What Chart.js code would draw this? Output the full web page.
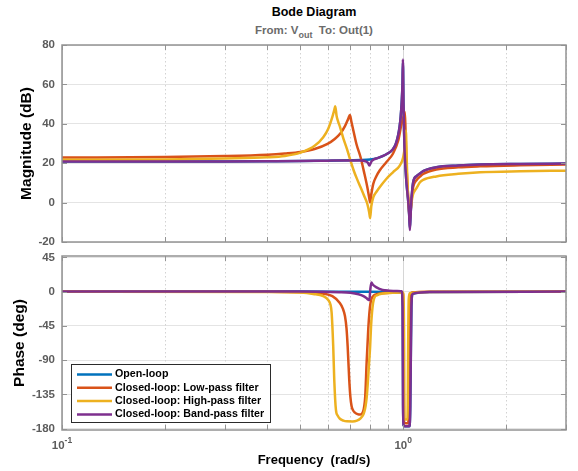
<!DOCTYPE html>
<html>
<head>
<meta charset="utf-8">
<script src="https://cdn.jsdelivr.net/npm/chart.js@4.4.1/dist/chart.umd.min.js"></script>
<style>
  html, body { margin: 0; padding: 0; background: #fff; }
  #wrap { position: relative; width: 578px; height: 471px; font-family: 'Liberation Sans', Arial, Helvetica, sans-serif; }
  #wrap canvas { position: absolute; left: 0; top: 0; }
  .head { position: absolute; left: 62px; width: 504px; text-align: center; font-weight: bold; line-height: 15px; white-space: nowrap; }
  .head sub { font-size: 9px; vertical-align: -4px; line-height: 0; }
</style>
</head>
<body>
<div id="wrap">
  <div class="head" style="top:5px;font-size:12.5px;color:#000">Bode Diagram</div>
  <div class="head" style="top:23px;font-size:11.5px;color:#6b6b6b">From: V<sub>out</sub>&nbsp; To: Out(1)</div>
  <canvas id="mag" width="578" height="471"></canvas>
  <canvas id="phase" width="578" height="471"></canvas>
</div>
<script>
// series
const seriesLabels = ['Open-loop', 'Closed-loop: Low-pass filter', 'Closed-loop: High-pass filter', 'Closed-loop: Band-pass filter'];
const seriesColors = ['#0072BD', '#D95319', '#EDB120', '#7E2F8E'];

// axes
const magTicks = [-20, 0, 20, 40, 60, 80];
const phaseTicks = [-180, -135, -90, -45, 0, 45];
const freqDecades = [0.1, 1];
const freqDecadeLabels = [['10', '-1'], ['10', '0']];
const freqMinor = [0.2, 0.3, 0.4, 0.5, 0.6, 0.7, 0.8, 0.9, 2, 3];

// magnitude (dB)
const wOpenMag = [0.1, 0.2, 0.3, 0.4, 0.5, 0.6, 0.7, 0.75, 0.8, 0.84, 0.87, 0.9, 0.93, 0.95, 0.966, 0.976, 0.983, 0.99, 0.995, 0.998, 1.002, 1.006, 1.0095, 1.016, 1.023, 1.034, 1.041, 1.046, 1.052, 1.06, 1.07, 1.095, 1.12, 1.144, 1.25, 1.45, 1.68, 2.2, 3];
const openMag = [20.8, 20.8, 20.9, 21.0, 21.1, 21.3, 21.5, 21.6, 21.9, 22.6, 23.6, 24.9, 26.8, 29.5, 34, 38.5, 43.4, 51, 60, 71, 50, 36, 26, 17, 9.5, 1, -6, -13, -5, 4, 10.5, 13.5, 14.8, 16.0, 17.9, 18.8, 19.3, 19.6, 19.8];

const wLowMag = [0.1, 0.2, 0.3, 0.4, 0.45, 0.5, 0.55, 0.6, 0.63, 0.655, 0.675, 0.69, 0.698, 0.705, 0.716, 0.73, 0.75, 0.77, 0.785, 0.795, 0.8, 0.806, 0.817, 0.835, 0.853, 0.892, 0.933, 0.967, 0.989, 1.002, 1.0115, 1.016, 1.022, 1.03, 1.038, 1.046, 1.054, 1.062, 1.07, 1.095, 1.12, 1.144, 1.25, 1.45, 1.68, 2.2, 3];
const lowMag = [22.9, 23.1, 23.6, 24.3, 24.9, 25.7, 27.2, 29.8, 32.3, 35.2, 38.8, 42.5, 44.5, 41, 35.8, 29.5, 23, 14.5, 7.8, 2.5, 0.1, 4, 9.5, 13.5, 16.3, 20.5, 24.8, 31.5, 40, 43.5, 46, 36, 20, 8, -2, -9, -2, 4, 8, 11.5, 13.2, 14.5, 16.8, 17.9, 18.4, 18.9, 19.3];

const wHighMag = [0.1, 0.2, 0.3, 0.4, 0.45, 0.5, 0.55, 0.583, 0.603, 0.62, 0.628, 0.632, 0.638, 0.645, 0.653, 0.668, 0.684, 0.7, 0.716, 0.733, 0.75, 0.768, 0.785, 0.795, 0.8, 0.806, 0.817, 0.835, 0.853, 0.892, 0.933, 0.977, 1.0, 1.01, 1.018, 1.024, 1.03, 1.038, 1.046, 1.054, 1.062, 1.07, 1.095, 1.12, 1.144, 1.25, 1.45, 1.68, 2.2, 3];
const highMag = [21.7, 21.9, 22.4, 23.0, 23.7, 25.4, 28.8, 33.2, 37.5, 43.5, 47, 48.9, 44, 41, 38.3, 32.5, 27.3, 21.5, 16.3, 11.8, 7.8, 3.5, -0.7, -5, -7.9, -2, 2.6, 5.5, 7.8, 12, 15.4, 18.8, 23, 28, 36.6, 22, 8, -1, -6, -2, 2, 4.5, 7.5, 10.3, 11.5, 13.3, 14.6, 15.4, 15.9, 16.2];

const wBandMag = [0.1, 0.2, 0.3, 0.4, 0.5, 0.6, 0.7, 0.75, 0.775, 0.788, 0.796, 0.802, 0.81, 0.82, 0.84, 0.87, 0.9, 0.93, 0.95, 0.966, 0.976, 0.983, 0.99, 0.995, 0.998, 1.002, 1.006, 1.0095, 1.016, 1.023, 1.034, 1.041, 1.046, 1.052, 1.06, 1.07, 1.095, 1.12, 1.144, 1.25, 1.45, 1.68, 2.2, 3];
const bandMag = [20.8, 20.8, 20.9, 21.0, 21.1, 21.3, 21.4, 21.4, 21.0, 20.2, 18.8, 19.9, 21.2, 21.9, 22.6, 23.6, 24.9, 26.8, 29.5, 34, 38.5, 43.4, 51, 60, 72.7, 50, 36, 26, 17, 9.5, 1, -6, -13.9, -5, 4, 10.5, 13.5, 14.8, 16.0, 17.9, 18.8, 19.3, 19.6, 19.8];

// phase (deg)
const wOpenPh = [0.1, 0.5, 0.8, 0.99, 0.996, 0.999, 1.003, 1.01, 1.04, 1.044, 1.049, 1.053, 1.057, 1.065, 1.2, 3];
const openPh = [0, 0, -0.3, -0.8, -20, -150, -176, -177, -177, -176, -150, -80, -20, -3, -0.5, 0];

const wLowPh = [0.1, 0.4, 0.5, 0.57, 0.62, 0.652, 0.665, 0.675, 0.682, 0.6874, 0.6948, 0.7, 0.7062, 0.714, 0.722, 0.735, 0.747, 0.757, 0.7636, 0.769, 0.774, 0.7813, 0.7898, 0.796, 0.8027, 0.81, 0.82, 0.835, 0.87, 0.93, 0.98, 0.999, 1.002, 1.005, 1.034, 1.037, 1.04, 1.043, 1.048, 1.06, 1.2, 3];
const lowPh = [0, -0.3, -0.8, -2, -6, -15, -22, -32, -48, -72, -116, -138, -151, -156.5, -159, -161, -161.6, -160.5, -157, -150, -137.6, -93, -50, -28, -14, -8, -5, -3.5, -2, -1.2, -0.8, -3, -60, -172, -173, -160, -90, -20, -4, -1, -0.3, 0];

const wHighPh = [0.1, 0.4, 0.5, 0.545, 0.583, 0.603, 0.612, 0.617, 0.6236, 0.628, 0.635, 0.643, 0.6524, 0.668, 0.6834, 0.71, 0.7318, 0.75, 0.7636, 0.77, 0.776, 0.782, 0.788, 0.794, 0.8, 0.805, 0.81, 0.816, 0.823, 0.84, 0.87, 0.93, 0.98, 0.999, 1.002, 1.006, 1.009, 1.028, 1.031, 1.034, 1.038, 1.045, 1.2, 3];
const highPh = [0, -0.5, -1.2, -3, -6, -11, -17, -28, -72, -116, -155, -163, -167, -169.5, -170.4, -170.5, -169.5, -166.5, -161.6, -157, -150, -138, -118, -95, -72, -45, -28, -15, -8, -4.5, -2.6, -1.5, -1, -1, -5, -60, -168, -168, -150, -70, -10, -2, -0.5, 0];

const wBandPh = [0.1, 0.5, 0.65, 0.7, 0.74, 0.765, 0.78, 0.79, 0.796, 0.801, 0.807, 0.815, 0.835, 0.87, 0.91, 0.96, 0.99, 0.996, 0.999, 1.003, 1.01, 1.04, 1.044, 1.049, 1.053, 1.057, 1.065, 1.2, 3];
const bandPh = [0, 0, -0.7, -1.5, -3.5, -6, -8.5, -10.5, -11, 3, 12, 9, 5.5, 2.2, 1.2, 0.8, 0.5, -20, -150, -176, -177, -177, -176, -150, -80, -20, -3, -0.5, 0];

Chart.defaults.font.family = "'Liberation Sans', Arial, Helvetica, sans-serif";
const fontFamily = Chart.defaults.font.family;
const tickGrey = '#5c5c5c';
const frameGrey = '#939393';

const pts = (w, v) => w.map((f, i) => ({ x: f, y: v[i] }));

function lineSets(pairs) {
    return pairs.map(([w, v], i) => ({
        label: seriesLabels[i],
        data: pts(w, v),
        borderColor: seriesColors[i],
        backgroundColor: seriesColors[i],
        borderWidth: 2.5,
        pointRadius: 0,
        cubicInterpolationMode: 'monotone',
        fill: false,
        order: pairs.length - i   // later series drawn on top, like MATLAB
    }));
}

// grid, box and inward tick marks like the MATLAB axes
const axesFrame = {
    id: 'axesFrame',
    beforeDatasetsDraw(chart) {
        const { ctx, chartArea: a, scales: { x } } = chart;
        ctx.save();
        ctx.lineWidth = 1;
        ctx.strokeStyle = '#d2d2d2';
        ctx.setLineDash([1.5, 2.5]);
        freqMinor.forEach(f => {
            const px = Math.round(x.getPixelForValue(f)) + 0.5;
            ctx.beginPath(); ctx.moveTo(px, a.top); ctx.lineTo(px, a.bottom); ctx.stroke();
        });
        ctx.setLineDash([]);
        ctx.strokeStyle = '#d6d6d6';
        freqDecades.forEach(f => {
            const px = Math.round(x.getPixelForValue(f)) + 0.5;
            ctx.beginPath(); ctx.moveTo(px, a.top); ctx.lineTo(px, a.bottom); ctx.stroke();
        });
        ctx.restore();
    },
    afterDraw(chart) {
        const { ctx, chartArea: a, scales: { x, y } } = chart;
        const tl = 5;
        ctx.save();
        ctx.strokeStyle = frameGrey;
        ctx.lineWidth = 1;
        ctx.beginPath();
        freqMinor.concat(freqDecades).forEach(f => {
            const px = Math.round(x.getPixelForValue(f)) + 0.5;
            ctx.moveTo(px, a.top); ctx.lineTo(px, a.top + tl);
            ctx.moveTo(px, a.bottom); ctx.lineTo(px, a.bottom - tl);
        });
        y.ticks.forEach(t => {
            const py = Math.round(y.getPixelForValue(t.value)) + 0.5;
            ctx.moveTo(a.left, py); ctx.lineTo(a.left + tl, py);
            ctx.moveTo(a.right, py); ctx.lineTo(a.right - tl, py);
        });
        ctx.stroke();
        ctx.lineWidth = 1.5;
        ctx.strokeRect(a.left, a.top, a.right - a.left, a.bottom - a.top);
        ctx.restore();
    }
};

// 10^-1, 10^0 labels with raised exponents
const decadeLabels = {
    id: 'decadeLabels',
    afterDraw(chart) {
        const { ctx, chartArea: a, scales: { x } } = chart;
        const big = `bold 11.5px ${fontFamily}`, small = `bold 8.5px ${fontFamily}`;
        ctx.save();
        ctx.fillStyle = tickGrey;
        ctx.textBaseline = 'alphabetic';
        freqDecades.forEach((f, i) => {
            const [base, exp] = freqDecadeLabels[i];
            ctx.font = big; const wb = ctx.measureText(base).width;
            ctx.font = small; const we = ctx.measureText(exp).width;
            const left = x.getPixelForValue(f) - (wb + we) / 2;
            ctx.font = big; ctx.fillText(base, left, a.bottom + 19);
            ctx.font = small; ctx.fillText(exp, left + wb, a.bottom + 13);
        });
        ctx.restore();
    }
};

// legend box in the lower left of the phase axes
const boxedLegend = {
    id: 'boxedLegend',
    afterDraw(chart) {
        const { ctx } = chart;
        ctx.save();
        ctx.fillStyle = '#fff';
        ctx.fillRect(71.5, 364.5, 199, 58);
        ctx.strokeStyle = '#2b2b2b';
        ctx.lineWidth = 1;
        ctx.strokeRect(71.5, 364.5, 199, 58);
        ctx.font = `bold 10.7px ${fontFamily}`;
        ctx.textBaseline = 'middle';
        chart.data.datasets.forEach((ds, i) => {
            const cy = 374.5 + i * 13.3;
            ctx.strokeStyle = ds.borderColor;
            ctx.lineWidth = 2.5;
            ctx.beginPath(); ctx.moveTo(77, cy); ctx.lineTo(112, cy); ctx.stroke();
            ctx.fillStyle = '#000';
            ctx.fillText(ds.label, 115, cy);
        });
        ctx.restore();
    }
};

const tickFont = { size: 11.5, weight: 'bold' };
const titleFont = { size: 15.5, weight: 'bold' };

new Chart(document.getElementById('mag'), {
    type: 'line',
    data: { datasets: lineSets([[wOpenMag, openMag], [wLowMag, lowMag], [wHighMag, highMag], [wBandMag, bandMag]]) },
    options: {
        responsive: false, animation: false, events: [],
        layout: { padding: { left: 0, top: 45, right: 12, bottom: 229 } },
        plugins: { legend: { display: false }, tooltip: { enabled: false } },
        scales: {
            x: { type: 'logarithmic', min: 0.1, max: 3, display: false },
            y: {
                min: -20, max: 80,
                afterFit: s => { s.width = 62; },
                afterBuildTicks: s => { s.ticks = magTicks.map(v => ({ value: v })); },
                ticks: { font: tickFont, color: tickGrey, padding: 7 },
                grid: { color: '#e4e4e4', drawTicks: false },
                border: { display: false },
                title: { display: true, text: 'Magnitude (dB)', color: '#000', font: titleFont, padding: { top: 17.7, bottom: 0 } }
            }
        }
    },
    plugins: [axesFrame]
});

new Chart(document.getElementById('phase'), {
    type: 'line',
    data: { datasets: lineSets([[wOpenPh, openPh], [wLowPh, lowPh], [wHighPh, highPh], [wBandPh, bandPh]]) },
    options: {
        responsive: false, animation: false, events: [],
        layout: { padding: { left: 0, top: 256, right: 12, bottom: 0 } },
        plugins: { legend: { display: false }, tooltip: { enabled: false } },
        scales: {
            x: {
                type: 'logarithmic', min: 0.1, max: 3,
                afterFit: s => { s.height = 41; },
                ticks: { display: false },
                grid: { display: false },
                border: { display: false },
                title: { display: true, text: 'Frequency  (rad/s)', color: '#000', font: { size: 13, weight: 'bold' }, padding: { top: 0, bottom: 2.5 } }
            },
            y: {
                min: -181.8, max: 46.8,
                afterFit: s => { s.width = 62; },
                afterBuildTicks: s => { s.ticks = phaseTicks.map(v => ({ value: v })); },
                ticks: { font: tickFont, color: tickGrey, padding: 7 },
                grid: { color: '#e4e4e4', drawTicks: false },
                border: { display: false },
                title: { display: true, text: 'Phase (deg)', color: '#000', font: titleFont, padding: { top: 10.7, bottom: 0 } }
            }
        }
    },
    plugins: [axesFrame, decadeLabels, boxedLegend]
});
</script>
</body>
</html>
